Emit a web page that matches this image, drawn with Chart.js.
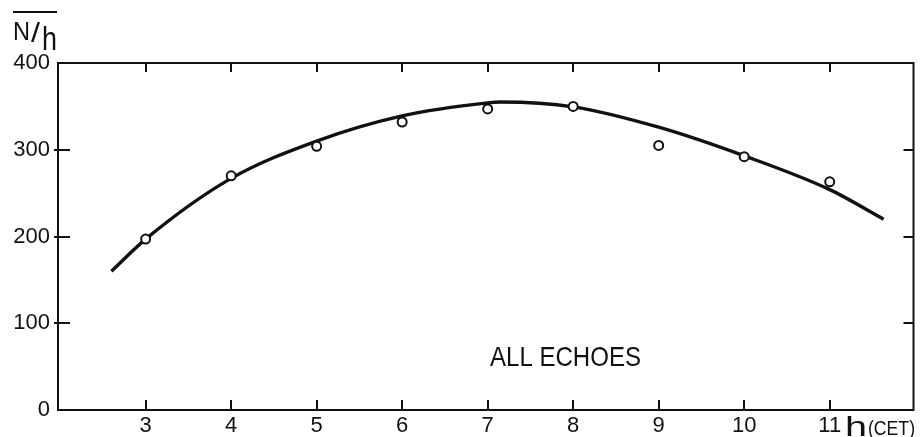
<!DOCTYPE html>
<html>
<head>
<meta charset="utf-8">
<script src="https://cdn.jsdelivr.net/npm/chart.js@4/dist/chart.umd.min.js"></script>
<style>
  html, body { margin: 0; padding: 0; background: #fff; }
  #wrap { width: 920px; height: 437px; position: relative; }
</style>
</head>
<body>
<div id="wrap"><canvas id="c" width="920" height="437"></canvas></div>
<script>
// Hourly mean echo rate, all echoes
const hours = [3, 4, 5, 6, 7, 8, 9, 10, 11];
const echoRate = [197, 270, 304, 332, 347, 350, 305, 292, 263];

// Smooth fitted curve through the hourly means
const curveHours = [2.6, 3, 4, 5, 6, 7, 7.15, 8, 9, 10, 11, 11.63];
const curveRate = [160, 197, 267, 310, 339, 354, 355, 349.5, 326, 293, 254, 220];

const xTickValues = [3, 4, 5, 6, 7, 8, 9, 10, 11];
const xTickLabels = ['3', '4', '5', '6', '7', '8', '9', '10', '11'];
const yTickValues = [0, 100, 200, 300, 400];

const INK = '#111';
const FONT = '"Liberation Sans", Arial, sans-serif';

// Draw text squeezed or stretched to a given width
function fitText(ctx, text, x, y, width) {
  const w = ctx.measureText(text).width;
  ctx.save();
  ctx.translate(x, y);
  ctx.scale(width / w, 1);
  ctx.fillText(text, 0, 0);
  ctx.restore();
}

// Frame, inward tick marks and free text
const frame = {
  id: 'frame',
  afterDraw(chart) {
    const ctx = chart.ctx;
    const a = chart.chartArea;
    const xs = chart.scales.x, ys = chart.scales.y;
    ctx.save();
    ctx.strokeStyle = INK;
    ctx.lineWidth = 2;
    ctx.lineCap = 'butt';
    ctx.strokeRect(a.left, a.top, a.right - a.left, a.bottom - a.top);

    ctx.beginPath();
    xTickValues.forEach(v => {
      const px = Math.round(xs.getPixelForValue(v));
      ctx.moveTo(px, a.bottom); ctx.lineTo(px, a.bottom - 10);
      ctx.moveTo(px, a.top); ctx.lineTo(px, a.top + 9);
    });
    yTickValues.slice(1, -1).forEach(v => {
      const py = Math.round(ys.getPixelForValue(v));
      ctx.moveTo(a.left - 4, py); ctx.lineTo(a.left + 12, py);
      ctx.moveTo(a.right, py); ctx.lineTo(a.right - 10, py);
    });
    ctx.stroke();

    ctx.fillStyle = INK;
    ctx.textBaseline = 'alphabetic';
    ctx.textAlign = 'left';

    // y-axis title N/h with overline
    ctx.font = '25px ' + FONT;
    fitText(ctx, 'N', 13, 40, 17);
    ctx.font = '27px ' + FONT;
    fitText(ctx, '/', 31, 42, 9);
    ctx.font = '34px ' + FONT;
    fitText(ctx, 'h', 42, 50, 15);
    ctx.beginPath();
    ctx.moveTo(13, 12); ctx.lineTo(57, 12);
    ctx.stroke();

    // x-axis unit after the last tick label
    ctx.font = '27px ' + FONT;
    fitText(ctx, 'h', 845, 436, 22);
    ctx.font = '20px ' + FONT;
    fitText(ctx, '(CET)', 868, 435, 47);

    // series label, set condensed
    ctx.font = '28px ' + FONT;
    fitText(ctx, 'ALL ECHOES', 490, 366, 151);
    ctx.restore();
  }
};

new Chart(document.getElementById('c'), {
  type: 'scatter',
  data: {
    datasets: [
      {
        label: 'fit',
        type: 'line',
        data: curveHours.map((h, i) => ({ x: h, y: curveRate[i] })),
        borderColor: INK,
        borderWidth: 3.4,
        pointRadius: 0,
        cubicInterpolationMode: 'monotone',
        fill: false,
        order: 2
      },
      {
        label: 'ALL ECHOES',
        data: hours.map((h, i) => ({ x: h, y: echoRate[i] })),
        pointStyle: 'circle',
        pointRadius: 4.5,
        pointBorderWidth: 2,
        pointBackgroundColor: '#fff',
        pointBorderColor: INK,
        order: 1
      }
    ]
  },
  options: {
    responsive: false,
    animation: false,
    events: [],
    layout: { padding: { top: 63, right: 3, left: 0, bottom: 0 } },
    plugins: { legend: { display: false }, tooltip: { enabled: false } },
    scales: {
      x: {
        type: 'linear',
        min: 1.975, max: 11.98,
        grid: { display: false, drawTicks: false },
        border: { display: false },
        afterBuildTicks: s => { s.ticks = xTickValues.map(v => ({ value: v })); },
        afterFit: s => { s.height = 27; },
        ticks: {
          padding: 3,
          color: INK,
          font: { family: FONT, size: 22 },
          maxRotation: 0,
          callback: v => xTickLabels[xTickValues.indexOf(v)] ?? ''
        }
      },
      y: {
        type: 'linear',
        min: 0, max: 400,
        grid: { display: false, drawTicks: false },
        border: { display: false },
        afterBuildTicks: s => { s.ticks = yTickValues.map(v => ({ value: v })); },
        afterFit: s => { s.width = 58; },
        ticks: {
          padding: 8,
          color: INK,
          font: { family: FONT, size: 22 },
          callback: v => String(v)
        }
      }
    }
  },
  plugins: [frame]
});
</script>
</body>
</html>
